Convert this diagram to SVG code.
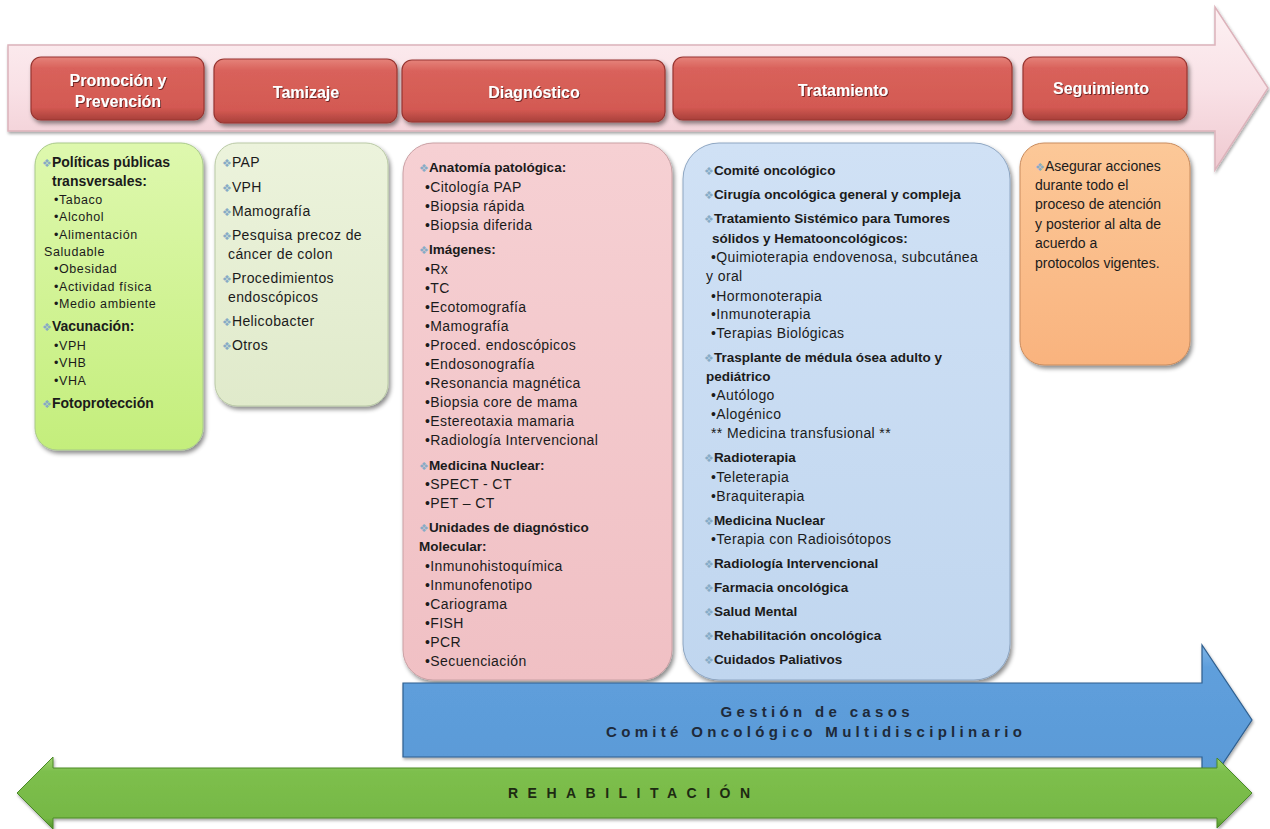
<svg xmlns="http://www.w3.org/2000/svg" width="1270" height="829" viewBox="0 0 1270 829">
<defs>
<linearGradient id="gPink" x1="0" y1="0" x2="0" y2="1"><stop offset="0" stop-color="#fdf1f3"/><stop offset="0.5" stop-color="#f9e1e6"/><stop offset="1" stop-color="#efc9d0"/></linearGradient>
<linearGradient id="gRed" x1="0" y1="0" x2="0" y2="1"><stop offset="0" stop-color="#e5827a"/><stop offset="0.18" stop-color="#d9625b"/><stop offset="0.8" stop-color="#d35952"/><stop offset="1" stop-color="#a8403b"/></linearGradient>
<linearGradient id="gG1" x1="0" y1="0" x2="0" y2="1"><stop offset="0" stop-color="#def8ae"/><stop offset="1" stop-color="#c4ee7c"/></linearGradient>
<linearGradient id="gG2" x1="0" y1="0" x2="0" y2="1"><stop offset="0" stop-color="#ecf3dc"/><stop offset="1" stop-color="#e0eacb"/></linearGradient>
<linearGradient id="gPk" x1="0" y1="0" x2="0" y2="1"><stop offset="0" stop-color="#f6d0d3"/><stop offset="1" stop-color="#f0c0c4"/></linearGradient>
<linearGradient id="gBl" x1="0" y1="0" x2="0" y2="1"><stop offset="0" stop-color="#d0e1f5"/><stop offset="1" stop-color="#c0d6ef"/></linearGradient>
<linearGradient id="gOr" x1="0" y1="0" x2="0" y2="1"><stop offset="0" stop-color="#fcc898"/><stop offset="1" stop-color="#f9b37e"/></linearGradient>
<linearGradient id="gBlue" x1="0" y1="0" x2="0" y2="1"><stop offset="0" stop-color="#7db4e6"/><stop offset="0.15" stop-color="#5f9fdc"/><stop offset="0.85" stop-color="#5a9ad7"/><stop offset="1" stop-color="#3e78b3"/></linearGradient>
<linearGradient id="gGreen" x1="0" y1="0" x2="0" y2="1"><stop offset="0" stop-color="#9fd46e"/><stop offset="0.2" stop-color="#7dbf4d"/><stop offset="0.85" stop-color="#76b845"/><stop offset="1" stop-color="#4f8f2a"/></linearGradient>
<filter id="sh" x="-10%" y="-10%" width="125%" height="125%"><feDropShadow dx="2" dy="3" stdDeviation="2" flood-color="#000" flood-opacity="0.45"/></filter>
<filter id="shs" x="-10%" y="-10%" width="125%" height="125%"><feDropShadow dx="1" dy="2" stdDeviation="1.5" flood-color="#000" flood-opacity="0.35"/></filter>
<filter id="tsh" x="-10%" y="-20%" width="120%" height="160%"><feDropShadow dx="1" dy="1" stdDeviation="0.6" flood-color="#5a1a16" flood-opacity="0.8"/></filter>
</defs>
<style>
.hd{font-family:"Liberation Sans",Arial,sans-serif;font-weight:bold;font-size:16px;fill:#fff;text-anchor:middle}
.rb{fill:url(#gRed);stroke:#973530;stroke-width:1.2}
.h{font-family:"Liberation Sans",Arial,sans-serif;font-weight:bold;font-size:13.5px;fill:#1b1b1b}
.t{font-family:"Liberation Sans",Arial,sans-serif;font-size:14px;letter-spacing:0.4px;fill:#1b1b1b}
.s{font-family:"Liberation Sans",Arial,sans-serif;font-size:12.5px;letter-spacing:0.6px;fill:#1b1b1b}
.d{font-family:"DejaVu Sans",sans-serif;font-size:11px;font-weight:normal;fill:#86abc6;letter-spacing:0}
.ar{font-family:"Liberation Sans",Arial,sans-serif;font-weight:bold;font-size:15px;fill:#1e2a3a;text-anchor:middle}
</style>

<g id="arrow-proceso">
<path d="M8 45 H1215 V7 L1268 88 L1215 170 V131 H8 Z" fill="url(#gPink)" stroke="#dcb3bb" stroke-width="1.5" filter="url(#shs)"/>
</g>

<g id="fase-promocion">
<rect class="rb" x="31" y="57" width="173" height="63" rx="10" filter="url(#sh)"/>
<text class="hd" filter="url(#tsh)"><tspan x="118" y="86">Promoción y</tspan><tspan x="118" y="107">Prevención</tspan></text>
</g>
<g id="fase-tamizaje">
<rect class="rb" x="214" y="59" width="183" height="64" rx="10" filter="url(#sh)"/>
<text class="hd" x="306" y="98" filter="url(#tsh)">Tamizaje</text>
</g>
<g id="fase-diagnostico">
<rect class="rb" x="402" y="60" width="263" height="62" rx="10" filter="url(#sh)"/>
<text class="hd" x="534" y="98" filter="url(#tsh)">Diagnóstico</text>
</g>
<g id="fase-tratamiento">
<rect class="rb" x="673" y="57" width="339" height="63" rx="10" filter="url(#sh)"/>
<text class="hd" x="843" y="96" filter="url(#tsh)">Tratamiento</text>
</g>
<g id="fase-seguimiento">
<rect class="rb" x="1023" y="57" width="164" height="63" rx="10" filter="url(#sh)"/>
<text class="hd" x="1101" y="94" filter="url(#tsh)">Seguimiento</text>
</g>

<g id="box-promocion">
<rect x="35" y="143" width="168" height="307" rx="22" fill="url(#gG1)" stroke="#a9c98a" stroke-width="1" filter="url(#sh)"/>
<text class="h" x="42" y="167" style="font-size:14px"><tspan class="d">❖</tspan>Políticas públicas</text>
<text class="h" x="52" y="186" style="font-size:14px">transversales:</text>
<text class="s" x="54" y="204">•Tabaco</text>
<text class="s" x="54" y="221">•Alcohol</text>
<text class="s" x="54" y="239">•Alimentación</text>
<text class="s" x="44" y="256">Saludable</text>
<text class="s" x="54" y="273">•Obesidad</text>
<text class="s" x="54" y="291">•Actividad física</text>
<text class="s" x="54" y="308">•Medio ambiente</text>
<text class="h" x="42" y="331" style="font-size:14px"><tspan class="d">❖</tspan>Vacunación:</text>
<text class="s" x="54" y="350">•VPH</text>
<text class="s" x="54" y="367">•VHB</text>
<text class="s" x="54" y="385">•VHA</text>
<text class="h" x="42" y="408" style="font-size:14px"><tspan class="d">❖</tspan>Fotoprotección</text>
</g>

<g id="box-tamizaje">
<rect x="215" y="143" width="173" height="263" rx="22" fill="url(#gG2)" stroke="#b9c9a5" stroke-width="1" filter="url(#sh)"/>
<text class="t" x="222" y="167"><tspan class="d">❖</tspan>PAP</text>
<text class="t" x="222" y="192"><tspan class="d">❖</tspan>VPH</text>
<text class="t" x="222" y="216"><tspan class="d">❖</tspan>Mamografía</text>
<text class="t" x="222" y="240"><tspan class="d">❖</tspan>Pesquisa precoz de</text>
<text class="t" x="228" y="259">cáncer de colon</text>
<text class="t" x="222" y="283"><tspan class="d">❖</tspan>Procedimientos</text>
<text class="t" x="228" y="302">endoscópicos</text>
<text class="t" x="222" y="326"><tspan class="d">❖</tspan>Helicobacter</text>
<text class="t" x="222" y="350"><tspan class="d">❖</tspan>Otros</text>
</g>

<g id="box-diagnostico">
<rect x="403" y="143" width="269" height="537" rx="30" fill="url(#gPk)" stroke="#c9a0a4" stroke-width="1" filter="url(#sh)"/>
<text class="h" x="419" y="172"><tspan class="d">❖</tspan>Anatomía patológica:</text>
<text class="t" x="425" y="192">•Citología PAP</text>
<text class="t" x="425" y="211">•Biopsia rápida</text>
<text class="t" x="425" y="230">•Biopsia diferida</text>
<text class="h" x="419" y="254"><tspan class="d">❖</tspan>Imágenes:</text>
<text class="t" x="425" y="274">•Rx</text>
<text class="t" x="425" y="293">•TC</text>
<text class="t" x="425" y="312">•Ecotomografía</text>
<text class="t" x="425" y="331">•Mamografía</text>
<text class="t" x="425" y="350">•Proced. endoscópicos</text>
<text class="t" x="425" y="369">•Endosonografía</text>
<text class="t" x="425" y="388">•Resonancia magnética</text>
<text class="t" x="425" y="407">•Biopsia core de mama</text>
<text class="t" x="425" y="426">•Estereotaxia mamaria</text>
<text class="t" x="425" y="445">•Radiología Intervencional</text>
<text class="h" x="419" y="470"><tspan class="d">❖</tspan>Medicina Nuclear:</text>
<text class="t" x="425" y="489">•SPECT - CT</text>
<text class="t" x="425" y="508">•PET – CT</text>
<text class="h" x="419" y="532"><tspan class="d">❖</tspan>Unidades de diagnóstico</text>
<text class="h" x="419" y="551">Molecular:</text>
<text class="t" x="425" y="571">•Inmunohistoquímica</text>
<text class="t" x="425" y="590">•Inmunofenotipo</text>
<text class="t" x="425" y="609">•Cariograma</text>
<text class="t" x="425" y="628">•FISH</text>
<text class="t" x="425" y="647">•PCR</text>
<text class="t" x="425" y="666">•Secuenciación</text>
</g>

<g id="box-tratamiento">
<rect x="683" y="143" width="327" height="537" rx="36" fill="url(#gBl)" stroke="#8ea6c2" stroke-width="1" filter="url(#sh)"/>
<text class="h" x="704" y="175"><tspan class="d">❖</tspan>Comité oncológico</text>
<text class="h" x="704" y="199"><tspan class="d">❖</tspan>Cirugía oncológica general y compleja</text>
<text class="h" x="704" y="223"><tspan class="d">❖</tspan>Tratamiento Sistémico para Tumores</text>
<text class="h" x="712" y="243">sólidos y Hematooncológicos:</text>
<text class="t" x="711" y="262">•Quimioterapia endovenosa, subcutánea</text>
<text class="t" x="706" y="281">y oral</text>
<text class="t" x="711" y="301">•Hormonoterapia</text>
<text class="t" x="711" y="319">•Inmunoterapia</text>
<text class="t" x="711" y="338">•Terapias Biológicas</text>
<text class="h" x="704" y="362"><tspan class="d">❖</tspan>Trasplante de médula ósea adulto y</text>
<text class="h" x="706" y="381">pediátrico</text>
<text class="t" x="711" y="400">•Autólogo</text>
<text class="t" x="711" y="419">•Alogénico</text>
<text class="t" x="711" y="438">** Medicina transfusional **</text>
<text class="h" x="704" y="462"><tspan class="d">❖</tspan>Radioterapia</text>
<text class="t" x="711" y="482">•Teleterapia</text>
<text class="t" x="711" y="501">•Braquiterapia</text>
<text class="h" x="704" y="525"><tspan class="d">❖</tspan>Medicina Nuclear</text>
<text class="t" x="711" y="544">•Terapia con Radioisótopos</text>
<text class="h" x="704" y="568"><tspan class="d">❖</tspan>Radiología Intervencional</text>
<text class="h" x="704" y="592"><tspan class="d">❖</tspan>Farmacia oncológica</text>
<text class="h" x="704" y="616"><tspan class="d">❖</tspan>Salud Mental</text>
<text class="h" x="704" y="640"><tspan class="d">❖</tspan>Rehabilitación oncológica</text>
<text class="h" x="704" y="664"><tspan class="d">❖</tspan>Cuidados Paliativos</text>
</g>

<g id="box-seguimiento">
<rect x="1020" y="143" width="170" height="222" rx="24" fill="url(#gOr)" stroke="#c98c5e" stroke-width="1" filter="url(#sh)"/>
<text class="t" x="1035" y="171" style="letter-spacing:0"><tspan class="d">❖</tspan>Asegurar acciones</text>
<text class="t" x="1035" y="190" style="letter-spacing:0">durante todo el</text>
<text class="t" x="1035" y="209" style="letter-spacing:0">proceso de atención</text>
<text class="t" x="1035" y="229" style="letter-spacing:0">y posterior al alta de</text>
<text class="t" x="1035" y="248" style="letter-spacing:0">acuerdo a</text>
<text class="t" x="1035" y="268" style="letter-spacing:0">protocolos vigentes.</text>
</g>

<g id="connectors">
<g id="arrow-gestion">
<path d="M403 683 H1202 V645 L1252 720 L1202 795 V757 H403 Z" fill="url(#gBlue)" stroke="#2f5f8f" stroke-width="1.2" filter="url(#shs)"/>
<text class="ar" x="815" y="717" textLength="189" lengthAdjust="spacing">Gestión de casos</text>
<text class="ar" x="814" y="737" textLength="416" lengthAdjust="spacing">Comité Oncológico Multidisciplinario</text>
</g>
<g id="arrow-rehabilitacion">
<path d="M17 793 L53 757 V768 H1217 V758 L1252 793 L1217 828 V818 H53 V829 Z" fill="url(#gGreen)" stroke="#4a8a27" stroke-width="1" filter="url(#shs)"/>
<text class="ar" x="629" y="798" textLength="242" lengthAdjust="spacing" style="fill:#1d2a12;font-size:14px">REHABILITACIÓN</text>
</g>
</g>
</svg>
